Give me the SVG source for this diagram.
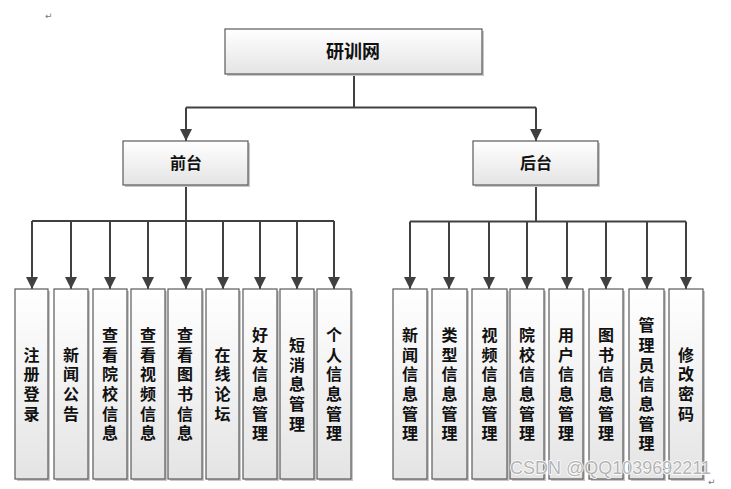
<svg xmlns="http://www.w3.org/2000/svg" width="731" height="489" viewBox="0 0 731 489">
<defs>
<linearGradient id="g" x1="0" y1="0" x2="0" y2="1">
<stop offset="0" stop-color="#ffffff"/>
<stop offset="1" stop-color="#e4e4e4"/>
</linearGradient>
<marker id="ah" markerUnits="userSpaceOnUse" markerWidth="12" markerHeight="12" viewBox="0 0 12 12" refX="12" refY="6" orient="auto">
<path d="M0,0 L12,6 L0,12 Z" fill="#404040"/>
</marker>
</defs>
<style>
.box{fill:url(#g);stroke:#5a5a5a;stroke-width:1.2}
.sh{fill:#c8c8c8}
.t{font-family:"Noto Sans CJK SC","Noto Sans CJK JP",sans-serif;font-weight:bold;fill:#111;text-anchor:middle}
.leaf{font-size:16px;writing-mode:vertical-rl;letter-spacing:3.7px}
.c{fill:none;stroke:#404040;stroke-width:2}
.a{fill:none;stroke:#404040;stroke-width:2;marker-end:url(#ah)}
.wm{font-family:"Liberation Sans",Arial,sans-serif;font-size:18px;fill:#b4b4b4;stroke:#ffffff;stroke-width:1.5;paint-order:stroke}
.ret{font-family:"DejaVu Sans",sans-serif;font-size:9px;fill:#777}
</style>
<rect width="731" height="489" fill="#ffffff"/>
<text class="ret" x="45" y="19">↵</text>

<g id="connectors">
<path class="c" d="M354,75 V107.5 M186,107.5 H536"/>
<path class="a" d="M186,107.5 V141"/>
<path class="a" d="M536,107.5 V141"/>
<path class="c" d="M186,185 V221 M32,221 H334"/>
<path class="a" d="M32,221 V289"/>
<path class="a" d="M71,221 V289"/>
<path class="a" d="M110,221 V289"/>
<path class="a" d="M148,221 V289"/>
<path class="a" d="M186,221 V289"/>
<path class="a" d="M223,221 V289"/>
<path class="a" d="M260,221 V289"/>
<path class="a" d="M297,221 V289"/>
<path class="a" d="M334,221 V289"/>
<path class="c" d="M536,185 V221.5 M410,221.5 H686"/>
<path class="a" d="M410,221.5 V289"/>
<path class="a" d="M449,221.5 V289"/>
<path class="a" d="M489,221.5 V289"/>
<path class="a" d="M527,221.5 V289"/>
<path class="a" d="M567,221.5 V289"/>
<path class="a" d="M606,221.5 V289"/>
<path class="a" d="M647,221.5 V289"/>
<path class="a" d="M686,221.5 V289"/>
</g>

<g id="root">
<rect class="sh" x="227" y="31" width="257" height="45"/>
<rect class="box" x="225" y="29" width="257" height="45"/>
<text class="t" x="353" y="58" font-size="18">研训网</text>
</g>
<g id="qiantai">
<rect class="sh" x="125" y="143" width="125" height="44"/>
<rect class="box" x="123" y="141" width="125" height="44"/>
<text class="t" x="186" y="169" font-size="16">前台</text>
</g>
<g id="houtai">
<rect class="sh" x="475" y="143" width="125" height="44"/>
<rect class="box" x="473" y="141" width="125" height="44"/>
<text class="t" x="536" y="169" font-size="16">后台</text>
</g>

<g id="f1"><rect class="sh" x="17" y="291" width="33" height="190"/><rect class="box" x="15" y="289" width="33" height="190"/>
<text class="t leaf" x="31.5" y="386">注册登录</text></g>
<g id="f2"><rect class="sh" x="56" y="291" width="34" height="190"/><rect class="box" x="54" y="289" width="34" height="190"/>
<text class="t leaf" x="71" y="386">新闻公告</text></g>
<g id="f3"><rect class="sh" x="95" y="291" width="34" height="190"/><rect class="box" x="93" y="289" width="34" height="190"/>
<text class="t leaf" x="110" y="386">查看院校信息</text></g>
<g id="f4"><rect class="sh" x="133" y="291" width="34" height="190"/><rect class="box" x="131" y="289" width="34" height="190"/>
<text class="t leaf" x="148" y="386">查看视频信息</text></g>
<g id="f5"><rect class="sh" x="170" y="291" width="34" height="190"/><rect class="box" x="168" y="289" width="34" height="190"/>
<text class="t leaf" x="185" y="386">查看图书信息</text></g>
<g id="f6"><rect class="sh" x="208" y="291" width="33" height="190"/><rect class="box" x="206" y="289" width="33" height="190"/>
<text class="t leaf" x="222.5" y="386">在线论坛</text></g>
<g id="f7"><rect class="sh" x="245" y="291" width="34" height="190"/><rect class="box" x="243" y="289" width="34" height="190"/>
<text class="t leaf" x="260" y="386">好友信息管理</text></g>
<g id="f8"><rect class="sh" x="282" y="291" width="34" height="190"/><rect class="box" x="280" y="289" width="34" height="190"/>
<text class="t leaf" x="297" y="386">短消息管理</text></g>
<g id="f9"><rect class="sh" x="319" y="291" width="34" height="190"/><rect class="box" x="317" y="289" width="34" height="190"/>
<text class="t leaf" x="334" y="386">个人信息管理</text></g>

<g id="b1"><rect class="sh" x="395" y="291" width="34" height="190"/><rect class="box" x="393" y="289" width="34" height="190"/>
<text class="t leaf" x="410" y="386">新闻信息管理</text></g>
<g id="b2"><rect class="sh" x="434" y="291" width="35" height="190"/><rect class="box" x="432" y="289" width="35" height="190"/>
<text class="t leaf" x="449.5" y="386">类型信息管理</text></g>
<g id="b3"><rect class="sh" x="474" y="291" width="35" height="190"/><rect class="box" x="472" y="289" width="35" height="190"/>
<text class="t leaf" x="489.5" y="386">视频信息管理</text></g>
<g id="b4"><rect class="sh" x="512" y="291" width="34" height="190"/><rect class="box" x="510" y="289" width="34" height="190"/>
<text class="t leaf" x="527" y="386">院校信息管理</text></g>
<g id="b5"><rect class="sh" x="551" y="291" width="34" height="190"/><rect class="box" x="549" y="289" width="34" height="190"/>
<text class="t leaf" x="566" y="386">用户信息管理</text></g>
<g id="b6"><rect class="sh" x="591" y="291" width="34" height="190"/><rect class="box" x="589" y="289" width="34" height="190"/>
<text class="t leaf" x="606" y="386">图书信息管理</text></g>
<g id="b7"><rect class="sh" x="631" y="291" width="35" height="190"/><rect class="box" x="629" y="289" width="35" height="190"/>
<text class="t leaf" x="646.5" y="386">管理员信息管理</text></g>
<g id="b8"><rect class="sh" x="671" y="291" width="34" height="190"/><rect class="box" x="669" y="289" width="34" height="190"/>
<text class="t leaf" x="686" y="386">修改密码</text></g>

<text class="wm" x="510" y="474">CSDN @QQ1039692211</text>
<text class="ret" x="708" y="485">↵</text>
</svg>
